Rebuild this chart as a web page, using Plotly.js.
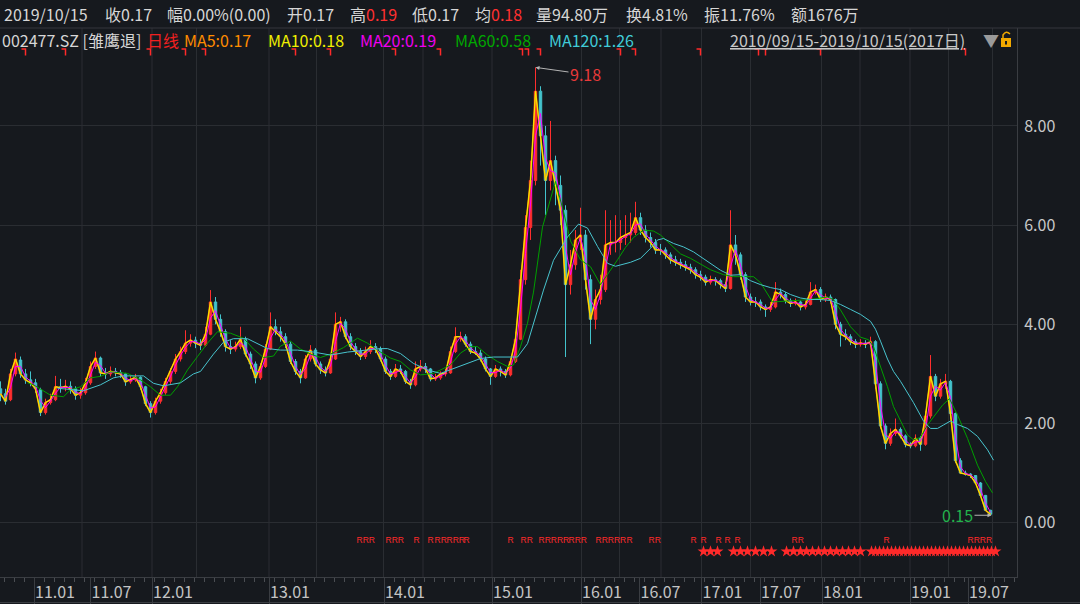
<!DOCTYPE html>
<html><head><meta charset="utf-8">
<script src="https://cdn.plot.ly/plotly-3.0.1.min.js"></script>
<style>html,body{margin:0;padding:0;background:#16191e;overflow:hidden}#chart{width:1080px;height:604px}</style>
</head><body><div id="chart"></div>
<script>
// ---------- DATA ----------
// each candle aggregates ~10 trading days; barDay = trading-day index
const barDay = [0,10,20,30,40,50,60,70,80,90,100,110,120,130,140,150,160,170,180,190,200,210,220,230,240,250,260,270,280,290,300,310,320,330,340,350,360,370,380,390,400,410,420,430,440,450,460,470,480,490,500,510,520,530,540,550,560,570,580,590,600,610,620,630,640,650,660,670,680,690,700,710,720,730,740,750,760,770,780,790,800,810,820,830,840,850,860,870,880,890,900,910,920,930,940,950,960,970,980,990,1000,1010,1020,1030,1040,1050,1060,1070,1080,1090,1100,1110,1120,1130,1140,1150,1160,1170,1180,1190,1200,1210,1220,1230,1240,1250,1260,1270,1280,1290,1300,1310,1320,1330,1340,1350,1360,1370,1380,1390,1400,1410,1420,1430,1440,1450,1460,1470,1480,1490,1500,1510,1520,1530,1540,1550,1560,1570,1580,1590,1600,1610,1620,1630,1640,1650,1660,1670,1680,1690,1700,1710,1720,1730,1740,1750,1760,1770,1780,1790,1800,1810,1820,1830,1840,1850,1860,1870,1880,1890,1900,1910,1920,1930,1940,1950,1960,1970,1980];
const barOpen = [2.70,2.60,2.48,3.00,3.28,3.00,2.88,2.82,2.68,2.22,
2.42,2.48,2.74,2.72,2.75,2.70,2.57,2.62,2.82,3.15,
3.32,3.02,3.00,3.05,3.03,3.00,2.84,2.88,2.93,2.74,
2.40,2.22,2.45,2.62,2.85,3.05,3.30,3.45,3.62,3.68,
3.62,3.58,3.80,4.45,4.10,3.85,3.55,3.50,3.55,3.70,
3.40,3.20,2.92,3.15,3.50,3.95,3.85,3.75,3.60,3.25,
3.05,2.92,3.30,3.48,3.20,3.08,3.02,3.30,4.00,4.05,
3.75,3.55,3.45,3.35,3.45,3.55,3.50,3.30,3.05,2.95,
3.10,3.05,2.85,2.78,3.10,3.15,3.10,2.90,2.92,3.00,
3.02,3.45,3.75,3.75,3.60,3.45,3.42,3.30,3.10,2.95,
3.10,3.05,2.98,3.25,3.70,4.90,5.95,6.90,8.70,7.80,
6.90,7.30,6.80,6.30,4.80,5.20,5.70,5.80,4.90,4.10,
4.50,4.70,5.60,5.65,5.65,5.75,5.80,5.85,6.15,5.90,
5.75,5.65,5.50,5.50,5.40,5.30,5.25,5.20,5.15,5.10,
5.00,4.95,4.85,4.90,4.88,4.80,4.72,5.60,5.40,5.00,
4.55,4.45,4.45,4.35,4.30,4.35,4.65,4.60,4.48,4.42,
4.45,4.35,4.40,4.65,4.70,4.50,4.55,4.50,4.00,3.80,
3.75,3.65,3.60,3.62,3.60,3.65,2.80,1.95,1.60,1.80,
1.88,1.75,1.58,1.55,1.70,1.58,2.15,2.95,2.55,2.80,
2.85,2.20,1.25,1.00,0.98,0.95,0.80,0.55,0.25];
const barHigh = [2.85,2.70,3.10,3.43,3.35,3.10,3.05,2.90,2.72,2.50,
2.60,2.96,2.90,2.88,2.85,2.75,2.72,2.92,3.25,3.45,
3.35,3.12,3.15,3.12,3.08,3.02,2.96,3.00,2.95,2.76,
2.45,2.52,2.70,2.92,3.12,3.40,3.55,3.88,3.80,3.75,
3.70,3.95,4.69,4.55,4.20,3.90,3.68,3.65,3.95,3.75,
3.45,3.25,3.22,3.60,4.24,4.10,3.95,3.82,3.65,3.30,
3.10,3.38,3.58,3.52,3.25,3.15,3.40,4.24,4.15,4.10,
3.82,3.62,3.52,3.55,3.68,3.62,3.55,3.35,3.10,3.20,
3.18,3.08,2.90,3.25,3.28,3.22,3.12,3.00,3.05,3.10,
3.55,3.94,3.85,3.80,3.65,3.55,3.48,3.35,3.12,3.18,
3.15,3.10,3.32,3.85,5.10,6.20,7.30,9.18,8.80,8.00,
8.10,7.40,7.00,6.40,5.50,5.90,6.35,5.90,5.00,4.70,
5.00,6.30,6.10,6.20,6.10,6.20,6.25,6.47,6.25,6.00,
5.85,5.72,5.62,5.55,5.45,5.38,5.32,5.28,5.22,5.15,
5.08,5.00,4.98,4.95,4.92,4.85,6.30,5.80,5.45,5.05,
4.62,4.55,4.50,4.40,4.45,4.85,4.72,4.65,4.52,4.52,
4.48,4.48,4.85,4.80,4.75,4.62,4.60,4.52,4.05,3.90,
3.80,3.70,3.70,3.68,3.75,3.68,2.85,2.00,1.90,2.10,
1.92,1.78,1.62,1.78,1.75,2.25,3.38,3.00,2.90,3.00,
2.88,2.22,1.30,1.05,1.00,0.96,0.82,0.56,0.26];
const barLow = [2.45,2.38,2.45,2.95,2.92,2.80,2.75,2.62,2.15,2.18,
2.38,2.45,2.62,2.65,2.60,2.48,2.50,2.58,2.78,3.10,
2.95,2.90,2.95,2.95,2.92,2.76,2.80,2.84,2.68,2.35,
2.12,2.18,2.40,2.58,2.80,3.00,3.25,3.40,3.55,3.52,
3.48,3.55,3.78,4.00,3.75,3.45,3.40,3.45,3.50,3.35,
3.10,2.81,2.88,3.12,3.48,3.78,3.65,3.52,3.20,2.98,
2.81,2.90,3.25,3.15,3.00,2.95,3.00,3.28,3.85,3.70,
3.48,3.38,3.28,3.30,3.40,3.42,3.25,3.00,2.88,2.92,
3.00,2.80,2.70,2.75,3.05,3.02,2.85,2.86,2.88,2.95,
3.00,3.42,3.65,3.55,3.40,3.38,3.25,3.05,2.78,2.92,
2.95,2.92,2.95,3.22,3.68,4.80,5.70,6.80,7.20,6.20,
6.70,6.40,6.00,3.34,4.60,5.10,5.50,4.70,3.60,3.90,
4.40,4.65,5.40,5.45,5.50,5.60,5.65,5.80,5.80,5.65,
5.55,5.42,5.40,5.32,5.22,5.18,5.12,5.08,5.02,4.92,
4.88,4.78,4.80,4.78,4.72,4.65,4.70,5.20,4.90,4.45,
4.38,4.35,4.28,4.15,4.25,4.32,4.52,4.42,4.35,4.38,
4.28,4.30,4.38,4.60,4.45,4.45,4.42,3.90,3.55,3.68,
3.58,3.52,3.55,3.52,3.55,2.70,1.90,1.48,1.55,1.75,
1.70,1.52,1.50,1.52,1.45,1.55,2.10,2.45,2.50,2.70,
2.10,1.20,0.98,0.95,0.90,0.78,0.52,0.24,0.15];
const barClose = [2.60,2.45,3.00,3.30,3.00,2.88,2.82,2.70,2.22,2.42,
2.48,2.74,2.72,2.75,2.70,2.57,2.62,2.82,3.15,3.32,
3.02,3.00,3.05,3.03,3.00,2.84,2.88,2.93,2.74,2.40,
2.22,2.45,2.62,2.85,3.05,3.30,3.45,3.62,3.68,3.62,
3.58,3.80,4.45,4.10,3.85,3.55,3.50,3.55,3.70,3.40,
3.20,2.92,3.15,3.50,3.95,3.85,3.75,3.60,3.25,3.05,
2.92,3.30,3.48,3.20,3.08,3.02,3.30,4.00,4.05,3.75,
3.55,3.45,3.35,3.45,3.55,3.50,3.30,3.05,2.95,3.10,
3.05,2.85,2.78,3.10,3.15,3.10,2.90,2.92,3.00,3.02,
3.45,3.75,3.75,3.60,3.45,3.42,3.30,3.10,2.95,3.10,
3.05,2.98,3.25,3.70,4.90,5.95,6.90,8.70,7.80,6.90,
7.30,6.80,6.30,4.80,5.20,5.70,5.80,4.90,4.10,4.50,
4.70,5.60,5.65,5.65,5.75,5.80,5.85,6.15,5.90,5.75,
5.65,5.50,5.50,5.40,5.30,5.25,5.20,5.15,5.10,5.00,
4.95,4.85,4.90,4.88,4.80,4.72,5.60,5.40,5.00,4.55,
4.45,4.45,4.35,4.30,4.35,4.65,4.60,4.48,4.42,4.45,
4.35,4.40,4.65,4.70,4.50,4.55,4.50,4.00,3.80,3.75,
3.65,3.60,3.62,3.60,3.65,2.80,1.95,1.60,1.80,1.88,
1.75,1.58,1.55,1.70,1.58,2.15,2.95,2.55,2.80,2.85,
2.20,1.25,1.00,0.98,0.95,0.80,0.55,0.25,0.17];

// MA60 / MA120 (day index, value)
const ma60Day = [54,66,100,126,140,160,180,200,220,254,280,300,320,340,354,374,394,414,434,460,486,506,526,546,560,580,600,620,640,660,686,714,734,760,780,800,820,840,866,900,920,940,954,974,994,1014,1026,1040,1054,1066,1084,1110,1126,1140,1160,1180,1200,1214,1234,1250,1266,1286,1306,1320,1340,1360,1380,1400,1420,1446,1466,1506,1520,1544,1580,1620,1654,1666,1680,1700,1720,1736,1746,1760,1774,1786,1800,1814,1826,1840,1854,1866,1884,1898,1914,1934,1954,1970,1984];
const ma60Val = [2.82,2.78,2.57,2.54,2.68,2.74,2.92,2.95,3.04,3.01,2.88,2.74,2.57,2.57,2.74,3.08,3.35,3.62,3.85,3.82,3.72,3.50,3.33,3.36,3.56,3.66,3.50,3.40,3.33,3.40,3.53,3.72,3.62,3.44,3.32,3.25,3.08,2.98,3.01,3.18,3.42,3.55,3.55,3.38,3.25,3.15,3.18,3.55,4.02,4.65,5.96,6.88,6.27,5.68,5.30,5.16,4.80,5.00,5.30,5.55,5.75,5.90,5.88,5.80,5.60,5.42,5.33,5.22,5.10,5.00,4.96,4.96,4.84,4.45,4.47,4.50,4.55,4.50,4.29,3.95,3.74,3.69,3.55,3.15,2.74,2.34,2.04,1.77,1.67,1.72,1.97,2.14,2.37,2.50,2.17,1.70,1.16,0.83,0.60];
const ma120Day = [114,146,166,200,226,246,286,306,326,360,386,400,426,446,466,494,514,534,560,594,626,660,694,726,760,774,800,826,854,880,906,934,960,986,1034,1054,1066,1086,1106,1134,1156,1174,1194,1214,1230,1246,1260,1280,1300,1314,1326,1346,1366,1386,1400,1420,1440,1460,1480,1500,1520,1540,1560,1580,1600,1620,1640,1660,1680,1700,1720,1740,1750,1760,1774,1786,1800,1826,1846,1860,1874,1886,1900,1914,1934,1954,1974,1986];
const ma120Val = [2.71,2.68,2.66,2.78,2.92,2.96,2.96,2.81,2.76,2.82,3.00,3.05,3.40,3.64,3.71,3.71,3.61,3.51,3.48,3.48,3.44,3.38,3.44,3.48,3.51,3.51,3.41,3.21,3.08,3.01,3.11,3.21,3.31,3.34,3.34,3.61,4.02,4.69,5.29,5.76,6.02,5.94,5.57,5.23,5.17,5.22,5.25,5.33,5.53,5.70,5.73,5.63,5.56,5.46,5.36,5.23,5.09,4.99,5.00,4.88,4.80,4.74,4.70,4.60,4.53,4.50,4.50,4.48,4.40,4.30,4.20,4.06,3.90,3.66,3.30,3.05,2.85,2.42,2.05,1.90,1.90,1.97,2.05,1.98,1.90,1.74,1.47,1.26];

// x-axis date ticks (trading-day index where each period starts)
const tickDay = [67,180,303,537,767,983,1161,1278,1402,1519,1643,1819,1935];
const tickText = ['11.01','11.07','12.01','13.01','14.01','15.01','16.01','16.07','17.01','17.07','18.01','19.01','19.07'];
const gridDay = [163,303,392,537,632,766,845,983,1162,1238,1321,1402,1500,1642,1719,1819,1896,1984];

// event markers
const flagDay = [50,130,300,370,410,590,660,790,880,1044,1056,1080,1240,1270,1400,1516,1530,1640,1930];
const rGroupDay = [712,770,826,854,868,892,926,1014,1040,1076,1136,1190,1252,1296,1380,1400,1430,1448,1468,1582,1766,1934];
const rGroupCount = [3,3,1,1,2,3,1,1,2,5,3,5,1,2,1,1,1,1,1,2,1,4];
const starDay = [1406,1420,1434,1466,1480,1494,1510,1526,1542,1572,1586,1600,1612,1624,1636,1648,1660,1672,1684,1696,1708,1720,1742,1750,1758,1766,1774,1782,1790,1798,1806,1814,1822,1830,1838,1846,1854,1862,1870,1878,1886,1894,1902,1910,1918,1926,1934,1942,1950,1958,1966,1974,1982,1990];

// ---------- helpers ----------
const DAYS_PER_BAR = 10;
function sma(vals, n){
  const w = Math.max(1, Math.round(n / DAYS_PER_BAR));
  return vals.map((v,i)=>{ if(i < w-1) return null; let s=0; for(let j=i-w+1;j<=i;j++) s+=vals[j]; return s/w; });
}
const W = 1080, H = 604, ML = 0, MR = 63, MT = 28, MB = 27;
const PW = W-ML-MR, PH = H-MT-MB;
const px = x => (x-ML)/PW;
const py = y => (H-MB-y)/PH;
const FONT = 'Noto Sans CJK SC, Noto Sans, sans-serif';
const FS = 16;

// flag marks: a short red hook drawn at each flag day
const flagX = [], flagY = [];
flagDay.forEach(d=>{ flagX.push(d-8, d, d, null); flagY.push(9.55, 9.55, 9.42, null); });

const traces = [
  {type:'candlestick', x:barDay, open:barOpen, high:barHigh, low:barLow, close:barClose,
   increasing:{line:{color:'#ff2e2e', width:1}, fillcolor:'#ff2e2e'},
   decreasing:{line:{color:'#43c3cc', width:1}, fillcolor:'#43c3cc'},
   whiskerwidth:0, hoverinfo:'skip', showlegend:false},
  {type:'scatter', mode:'lines', x:barDay, y:sma(barClose,5), line:{color:'#ff8c00', width:1.6}, hoverinfo:'skip', showlegend:false},
  {type:'scatter', mode:'lines', x:barDay, y:sma(barClose,10), line:{color:'#f0f000', width:1}, hoverinfo:'skip', showlegend:false},
  {type:'scatter', mode:'lines', x:barDay, y:sma(barClose,20), line:{color:'#ff00ff', width:1}, hoverinfo:'skip', showlegend:false},
  {type:'scatter', mode:'lines', x:ma60Day, y:ma60Val, line:{color:'#009e00', width:1}, hoverinfo:'skip', showlegend:false},
  {type:'scatter', mode:'lines', x:ma120Day, y:ma120Val, line:{color:'#48c4ce', width:1}, hoverinfo:'skip', showlegend:false},
  {type:'scatter', mode:'lines', x:flagX, y:flagY, line:{color:'#ff2a2a', width:1.5}, connectgaps:false, hoverinfo:'skip', showlegend:false},
  {type:'scatter', mode:'text', x:rGroupDay, y:rGroupDay.map(()=>-0.36), text:rGroupCount.map(n=>'R'.repeat(n)),
   textposition:'middle right',
   textfont:{color:'#ff2a2a', size:8.5, family:'Liberation Sans Narrow, Liberation Sans'}, hoverinfo:'skip', showlegend:false},
  {type:'scatter', mode:'markers', x:starDay, y:starDay.map(()=>-0.58),
   marker:{symbol:'star', size:9, color:'#ff2a2a', line:{width:0}}, hoverinfo:'skip', showlegend:false}
];

const WHITE = '#d6d6d6', RED = '#ff3030';
const row1 = [
  [2,'2019/10/15',WHITE],[103,'收0.17',WHITE],[165,'幅0.00%(0.00)',WHITE],[285,'开0.17',WHITE],
  [348,'高<span style="color:'+RED+'">0.19</span>',WHITE],[410,'低0.17',WHITE],
  [473,'均<span style="color:'+RED+'">0.18</span>',WHITE],[534,'量94.80万',WHITE],
  [624,'换4.81%',WHITE],[702,'振11.76%',WHITE],[789,'额1676万',WHITE]
];
const row2 = [
  [0,'002477.SZ [雏鹰退]',WHITE],[145,'日线','#f02020'],[182,'MA5:0.17','#ff8c00'],
  [266,'MA10:0.18','#f0f000'],[358,'MA20:0.19','#f000f0'],[453,'MA60:0.58','#00a800'],
  [547,'MA120:1.26','#40ccd8'],
  [728,'<span style="text-decoration:underline">2010/09/15-2019/10/15(2017日)</span>','#c8c8c8'],
  [981,'▼','#9a9a9a']
];
const annotations = [];
row1.forEach(([x,t,c])=>annotations.push({xref:'paper',yref:'paper',x:px(x),y:py(14),xanchor:'left',yanchor:'middle',text:t,showarrow:false,font:{family:FONT,size:FS,color:c}}));
row2.forEach(([x,t,c])=>annotations.push({xref:'paper',yref:'paper',x:px(x),y:py(40),xanchor:'left',yanchor:'middle',text:t,showarrow:false,font:{family:FONT,size:FS,color:c}}));
annotations.push({x:1070,y:9.18,xref:'x',yref:'y',text:'9.18',showarrow:true,ax:50,ay:7,arrowcolor:'#b4b4b4',arrowwidth:1,arrowhead:2,arrowsize:0.8,font:{family:FONT,size:FS,color:'#e83a3a'}});
annotations.push({x:1982,y:0.15,xref:'x',yref:'y',text:'0.15',showarrow:true,ax:-34,ay:0,arrowcolor:'#b4b4b4',arrowwidth:1,arrowhead:2,arrowsize:0.8,font:{family:FONT,size:FS,color:'#22b24c'}});

const shapes = [];
gridDay.forEach(d=>shapes.push({type:'line',xref:'x',yref:'paper',x0:d,x1:d,y0:0,y1:1,line:{color:'#2a2d32',width:1},layer:'below'}));
shapes.push({type:'line',xref:'paper',yref:'paper',x0:0,x1:W/PW,y0:1,y1:1,line:{color:'#34373c',width:1}});
shapes.push({type:'line',xref:'paper',yref:'paper',x0:0,x1:W/PW,y0:py(602.5),y1:py(602.5),line:{color:'#3a3d42',width:1}});
// lock icon
shapes.push({type:'rect',xref:'paper',yref:'paper',x0:px(1001),x1:px(1011),y0:py(47),y1:py(38),fillcolor:'#f2a900',line:{width:0}});
shapes.push({type:'rect',xref:'paper',yref:'paper',x0:px(1005),x1:px(1007),y0:py(44.5),y1:py(41),fillcolor:'#16191e',line:{width:0}});
shapes.push({type:'path',xref:'paper',yref:'paper',
  path:'M '+px(1003)+' '+py(38)+' L '+px(1003)+' '+py(35)+' Q '+px(1006)+' '+py(30)+' '+px(1010)+' '+py(34),
  line:{color:'#f2a900',width:1.5}});

const layout = {
  width:W, height:H, margin:{l:ML,r:MR,t:MT,b:MB,pad:0},
  paper_bgcolor:'#16191e', plot_bgcolor:'#16191e', showlegend:false,
  font:{family:FONT, color:'#c8c8c8'},
  xaxis:{type:'linear', range:[-1,2033], tickvals:tickDay, ticktext:tickText,
    ticks:'outside', ticklen:26, tickcolor:'#3a3d42', tickwidth:1,
    ticklabelshift:21, ticklabelstandoff:-25,
    tickfont:{family:FONT,size:FS,color:'#c4c4c4'},
    minor:{ticks:'outside', ticklen:4, tickcolor:'#4a4d52', dtick:20, tick0:7, showgrid:false},
    showgrid:false, zeroline:false, showline:true, linecolor:'#3a3d42', linewidth:1,
    rangeslider:{visible:false}, fixedrange:true},
  yaxis:{side:'right', range:[-1.095,9.974], tickvals:[0,2,4,6,8], ticktext:['0.00','2.00','4.00','6.00','8.00'],
    ticks:'', showgrid:true, gridcolor:'#2a2d32', gridwidth:1, zeroline:false,
    showline:true, linecolor:'#3a3d42', linewidth:1, ticklabelstandoff:3,
    tickfont:{family:FONT,size:FS,color:'#c8c8c8'}, fixedrange:true},
  annotations, shapes
};
Plotly.newPlot('chart', traces, layout, {staticPlot:true, displayModeBar:false});
</script></body></html>
